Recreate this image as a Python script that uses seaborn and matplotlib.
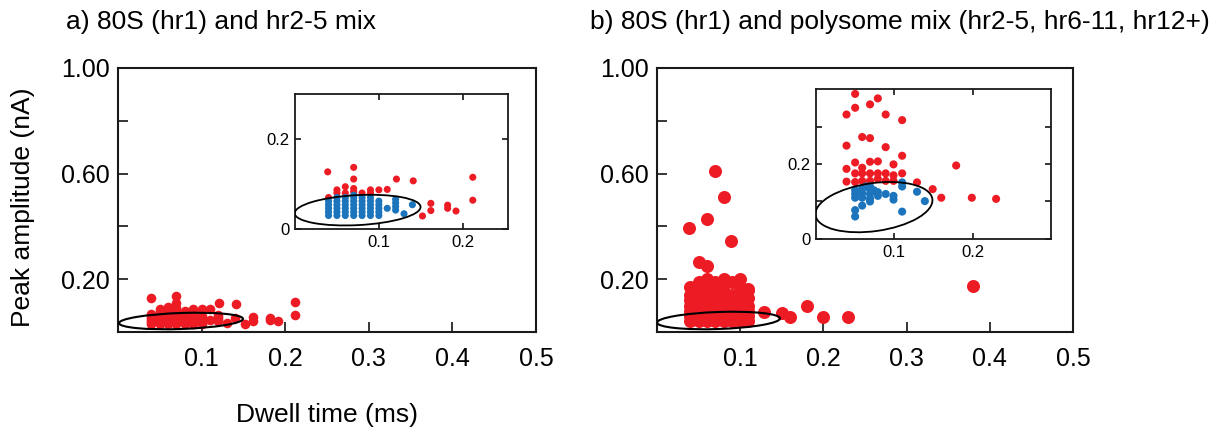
import matplotlib
matplotlib.use("Agg")
import matplotlib.pyplot as plt
import matplotlib.transforms as mtransforms
from matplotlib.patches import Ellipse
import pandas as pd
import seaborn as sns

OUTPUT = "out.png"
RED = "#ED1C24"
BLUE = "#1C75BC"

# ---- panel a) 80S (hr1) and hr2-5 mix -------------------------------------
# red events (hr2-5)
A_RED_X = [0.039, 0.070, 0.070, 0.050, 0.060, 0.060, 0.070, 0.090, 0.100, 0.110,
           0.121, 0.141, 0.212, 0.212, 0.040, 0.162, 0.162, 0.152, 0.182, 0.182,
           0.192, 0.050, 0.080, 0.090, 0.070]
A_RED_Y = [0.127, 0.137, 0.111, 0.087, 0.094, 0.080, 0.083, 0.087, 0.087, 0.088,
           0.111, 0.107, 0.115, 0.064, 0.070, 0.057, 0.041, 0.029, 0.053, 0.046,
           0.040, 0.080, 0.080, 0.080, 0.090]
# blue events (80S), read column by column
A_BLUE_COL_X = [0.04, 0.05, 0.06, 0.07, 0.08, 0.09, 0.10, 0.11, 0.12, 0.13, 0.14]
A_BLUE_COL_Y = [
    [0.030, 0.038, 0.046, 0.054, 0.062],
    [0.030, 0.038, 0.046, 0.054, 0.062, 0.070],
    [0.030, 0.038, 0.046, 0.054, 0.062, 0.070],
    [0.030, 0.038, 0.046, 0.054, 0.062, 0.070, 0.075],
    [0.030, 0.038, 0.046, 0.054, 0.062, 0.070],
    [0.030, 0.038, 0.046, 0.054, 0.062, 0.070],
    [0.030, 0.038, 0.046, 0.054, 0.062],
    [0.046],
    [0.042, 0.050, 0.058, 0.066],
    [0.034],
    [0.054],
]

# ---- panel b) 80S (hr1) and polysome mix ----------------------------------
# main plot (all events)
B_MAIN_COL_X = [0.04, 0.05, 0.06, 0.07, 0.08, 0.09, 0.10, 0.11]
B_MAIN_COL_Y = [
    [0.04, 0.06, 0.08, 0.10, 0.12, 0.14, 0.17],
    [0.04, 0.06, 0.08, 0.10, 0.12, 0.15, 0.19],
    [0.04, 0.06, 0.08, 0.10, 0.12, 0.14, 0.18, 0.20],
    [0.04, 0.06, 0.08, 0.10, 0.13, 0.16, 0.19],
    [0.04, 0.06, 0.08, 0.10, 0.12, 0.15, 0.18, 0.20],
    [0.04, 0.06, 0.08, 0.10, 0.12, 0.14, 0.19],
    [0.04, 0.06, 0.08, 0.11, 0.14, 0.17, 0.20],
    [0.04, 0.06, 0.08, 0.10, 0.13, 0.16],
]
B_MAIN_OUT_X = [0.070, 0.080, 0.060, 0.039, 0.089, 0.050, 0.060, 0.109, 0.380,
                0.129, 0.150, 0.160, 0.180, 0.199, 0.230]
B_MAIN_OUT_Y = [0.611, 0.513, 0.427, 0.393, 0.346, 0.266, 0.250, 0.161, 0.174,
                0.077, 0.071, 0.056, 0.098, 0.056, 0.056]

# inset
B_RED_X = [0.050, 0.050, 0.039, 0.079, 0.069, 0.089, 0.110, 0.059, 0.069, 0.039,
           0.089, 0.110, 0.050, 0.069, 0.079, 0.099, 0.039, 0.050, 0.059, 0.069,
           0.079, 0.089, 0.099, 0.110, 0.039, 0.050, 0.059, 0.069, 0.129, 0.149,
           0.160, 0.199, 0.230, 0.179, 0.079, 0.089, 0.059, 0.099]
B_RED_Y = [0.387, 0.350, 0.332, 0.375, 0.359, 0.332, 0.317, 0.272, 0.269, 0.249,
           0.245, 0.222, 0.204, 0.206, 0.207, 0.199, 0.187, 0.175, 0.175, 0.175,
           0.175, 0.175, 0.170, 0.175, 0.153, 0.152, 0.155, 0.155, 0.151, 0.133,
           0.110, 0.110, 0.107, 0.196, 0.160, 0.155, 0.190, 0.155]
B_BLUE_X = [0.110, 0.110, 0.129, 0.139, 0.110, 0.050, 0.050, 0.059, 0.069, 0.050,
            0.050, 0.050, 0.059, 0.059, 0.059, 0.069, 0.069, 0.069, 0.069, 0.079,
            0.079, 0.089, 0.099, 0.099, 0.064, 0.074]
B_BLUE_Y = [0.151, 0.140, 0.126, 0.101, 0.073, 0.077, 0.060, 0.089, 0.100, 0.110,
            0.120, 0.130, 0.110, 0.122, 0.135, 0.108, 0.120, 0.132, 0.140, 0.125,
            0.115, 0.120, 0.115, 0.105, 0.140, 0.130]


def flatten(col_x, col_y):
    xs, ys = [], []
    for x, ylist in zip(col_x, col_y):
        for y in ylist:
            xs.append(x)
            ys.append(y)
    return xs, ys


a_blue_x, a_blue_y = flatten(A_BLUE_COL_X, A_BLUE_COL_Y)
df_a = pd.DataFrame({
    "dwell": A_RED_X + a_blue_x,
    "amp": A_RED_Y + a_blue_y,
    "group": ["hr2-5"] * len(A_RED_X) + ["80S"] * len(a_blue_x),
})

b_main_x, b_main_y = flatten(B_MAIN_COL_X, B_MAIN_COL_Y)
df_b_main = pd.DataFrame({"dwell": b_main_x + B_MAIN_OUT_X,
                          "amp": b_main_y + B_MAIN_OUT_Y})
df_b_inset = pd.DataFrame({
    "dwell": B_RED_X + B_BLUE_X,
    "amp": B_RED_Y + B_BLUE_Y,
    "group": ["polysome"] * len(B_RED_X) + ["80S"] * len(B_BLUE_X),
})

sns.set_style("ticks")
plt.rcParams["font.family"] = ["Liberation Sans", "DejaVu Sans"]
plt.rcParams["text.color"] = "black"
plt.rcParams["xtick.color"] = "black"
plt.rcParams["ytick.color"] = "black"
plt.rcParams["axes.edgecolor"] = "black"
INSET_FONT = ["Liberation Sans Narrow", "Liberation Sans", "DejaVu Sans"]

fig = plt.figure(figsize=(12.25, 4.3), dpi=100)


def ring(ax, cx, cy, w_px, h_px, angle, lw=1.5):
    # ellipse sized in pixels, centred in data coordinates
    tr = fig.dpi_scale_trans + mtransforms.ScaledTranslation(cx, cy, ax.transData)
    e = Ellipse((0, 0), w_px / 100, h_px / 100, angle=angle, transform=tr,
                fill=False, edgecolor="black", linewidth=lw, zorder=5)
    ax.add_patch(e)


def style_main(ax):
    ax.set_xlim(0, 0.5)
    ax.set_ylim(0, 1.0)
    ax.set_xticks([0.1, 0.2, 0.3, 0.4, 0.5])
    ax.set_xticklabels(["0.1", "0.2", "0.3", "0.4", "0.5"])
    ax.set_yticks([0.2, 0.4, 0.6, 0.8, 1.0])
    ax.set_yticklabels(["0.20", "", "0.60", "", "1.00"])
    ax.tick_params(axis="x", direction="in", length=7, width=1.1,
                   labelsize=18, pad=11, colors="black")
    ax.tick_params(axis="y", direction="in", length=7, width=1.1,
                   labelsize=18, pad=6, colors="black")
    ax.set_xlabel("")
    ax.set_ylabel("")
    for s in ax.spines.values():
        s.set_visible(True)
        s.set_linewidth(1.5)
        s.set_color("#1a1a1a")


def style_inset(ax, xmax, ymax, yticks, ylabels):
    ax.set_xlim(0, xmax)
    ax.set_ylim(0, ymax)
    ax.set_xticks([0.1, 0.2])
    ax.set_xticklabels(["0.1", "0.2"], family=INSET_FONT)
    ax.set_yticks(yticks)
    ax.set_yticklabels(ylabels, family=INSET_FONT)
    ax.tick_params(direction="in", length=4, width=1.1, labelsize=12,
                   top=True, right=True, pad=4, colors="black")
    ax.set_xlabel("")
    ax.set_ylabel("")
    for s in ax.spines.values():
        s.set_visible(True)
        s.set_linewidth(1.3)
        s.set_color("#1a1a1a")


# ---------------- panel a ----------------
ax_a = fig.add_axes([0.0963, 0.2279, 0.3412, 0.614])
sns.scatterplot(data=df_a, x="dwell", y="amp", color=RED, s=48,
                linewidth=0, legend=False, ax=ax_a)
ring(ax_a, 0.0754, 0.0417, 124, 16, 2)
style_main(ax_a)

ax_ai = fig.add_axes([0.2408, 0.4674, 0.1739, 0.314])
sns.scatterplot(data=df_a, x="dwell", y="amp", hue="group",
                palette={"hr2-5": RED, "80S": BLUE}, s=26, linewidth=0,
                legend=False, ax=ax_ai)
ring(ax_ai, 0.0747, 0.042, 126, 30, 3, lw=1.3)
style_inset(ax_ai, 0.254, 0.3, [0, 0.2], ["0", "0.2"])

# ---------------- panel b ----------------
ax_b = fig.add_axes([0.5363, 0.2279, 0.3396, 0.614])
sns.scatterplot(data=df_b_main, x="dwell", y="amp", color=RED, s=88,
                linewidth=0, legend=False, ax=ax_b)
ring(ax_b, 0.074, 0.0436, 123, 17, 2)
style_main(ax_b)

ax_bi = fig.add_axes([0.6661, 0.4442, 0.1918, 0.3488])
sns.scatterplot(data=df_b_inset, x="dwell", y="amp", hue="group",
                palette={"polysome": RED, "80S": BLUE}, s=34, linewidth=0,
                legend=False, ax=ax_bi)
ring(ax_bi, 0.074, 0.085, 118, 48, 8, lw=1.3)
style_inset(ax_bi, 0.3, 0.4, [0, 0.1, 0.2, 0.3], ["0", "", "0.2", ""])

# ---------------- titles / labels ----------------
fig.text(66 / 1225, 1 - 22 / 430, "a) 80S (hr1) and hr2-5 mix",
         fontsize=19, va="center", ha="left", color="black")
fig.text(590 / 1225, 1 - 22 / 430,
         "b) 80S (hr1) and polysome mix (hr2-5, hr6-11, hr12+)",
         fontsize=19, va="center", ha="left", color="black")
fig.text(23 / 1225, 1 - 207 / 430, "Peak amplitude (nA)", fontsize=19,
         rotation=90, va="center", ha="center", color="black")
fig.text(327 / 1225, 1 - 415 / 430, "Dwell time (ms)", fontsize=19,
         va="center", ha="center", color="black")

fig.savefig(OUTPUT, dpi=100)
plt.close(fig)
